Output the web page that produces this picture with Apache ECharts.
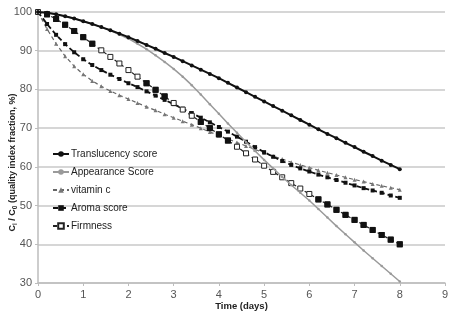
<!DOCTYPE html>
<html>
<head>
<meta charset="utf-8">
<script src="https://cdn.jsdelivr.net/npm/echarts@6/dist/echarts.min.js"></script>
<style>
html,body{margin:0;padding:0;background:#fff;}
#chart{width:460px;height:321px;}
</style>
</head>
<body>
<div id="chart"></div>
<script>
// ---- data ----
var days = [0,0.2,0.4,0.6,0.8,1,1.2,1.4,1.6,1.8,2,2.2,2.4,2.6,2.8,3,3.2,3.4,3.6,3.8,4,4.2,4.4,4.6,4.8,5,5.2,5.4,5.6,5.8,6,6.2,6.4,6.6,6.8,7,7.2,7.4,7.6,7.8,8];
var translucency = [100,99.8,99.4,98.9,98.3,97.6,96.9,96.1,95.3,94.4,93.5,92.5,91.5,90.5,89.4,88.4,87.3,86.2,85.1,84.0,82.9,81.7,80.5,79.3,78.1,76.9,75.7,74.5,73.3,72.1,70.9,69.7,68.5,67.4,66.2,65.1,63.9,62.8,61.6,60.5,59.4];
var appearance = [100,99.8,99.4,98.9,98.3,97.6,96.9,96.1,95.2,94.2,93.1,91.8,90.4,88.8,87.1,85.3,83.3,81.1,78.7,76.2,73.7,71.2,68.8,66.4,64.1,61.8,59.6,57.4,55.3,53.3,51.3,49.1,46.9,44.7,42.6,40.5,38.4,36.4,34.4,32.4,30.4];
var vitaminC = [100,95.6,91.8,88.6,86.0,83.9,82.2,80.8,79.6,78.5,77.5,76.5,75.5,74.6,73.6,72.7,71.8,70.9,70.0,69.0,68.1,67.2,66.3,65.4,64.5,63.6,62.8,62.0,61.2,60.5,59.8,59.1,58.5,57.9,57.3,56.7,56.2,55.6,55.1,54.6,54.1];
var aroma = [100,96.9,94.1,91.7,89.6,87.8,86.3,85.0,83.8,82.7,81.6,80.6,79.5,78.4,77.3,76.2,75.0,73.9,72.7,71.5,70.3,69.1,67.8,66.5,65.1,63.8,62.6,61.5,60.5,59.6,58.8,58.0,57.3,56.6,55.9,55.2,54.5,53.9,53.3,52.6,52.0];
var firmness = [100,99.4,98.2,96.7,95.1,93.5,91.8,90.1,88.4,86.7,85.0,83.3,81.6,79.9,78.2,76.5,74.8,73.2,71.6,70.0,68.4,66.8,65.2,63.5,61.9,60.3,58.7,57.3,55.8,54.4,53.0,51.6,50.3,48.9,47.6,46.3,45.0,43.7,42.4,41.2,40.0];
var seriesNames = ['Translucency score','Appearance Score','vitamin c','Aroma score','Firmness'];
var yTicks = [30,40,50,60,70,80,90,100];
var xTicks = [0,1,2,3,4,5,6,7,8,9];

// ---- build ----
function pairs(vals){ return days.map(function(d,i){ return [d, vals[i]]; }); }
// index ranges where firmness markers appear filled black in the reference
var filledRanges = [[1,6],[12,14],[18,21],[31,40]];
function filledOverlay(vals){
  return days.map(function(d,i){
    var on = filledRanges.some(function(r){ return i>=r[0] && i<=r[1]; });
    return on ? [d, vals[i]] : [d, null];
  });
}

var font = 'Liberation Sans, Arial, sans-serif';
var chart = echarts.init(document.getElementById('chart'), null, {renderer:'canvas'});
chart.setOption({
  animation:false,
  backgroundColor:'#fff',
  grid:{left:38, right:15, top:12, bottom:38, containLabel:false, outerBoundsMode:'none'},
  legend:{
    data:seriesNames,
    orient:'vertical',
    left:47, top:144,
    itemWidth:16, itemHeight:7, itemGap:8,
    textStyle:{fontFamily:font, fontSize:10, color:'#222', padding:[0,0,0,-3]},
    inactiveColor:'#ccc'
  },
  xAxis:{
    type:'value', min:xTicks[0], max:xTicks[xTicks.length-1], interval:1,
    name:'Time (days)', nameLocation:'middle', nameGap:18, nameMoveOverlap:false,
    nameTextStyle:{fontFamily:font, fontSize:9.5, fontWeight:'bold', color:'#222'},
    axisLine:{lineStyle:{color:'#bdbdbd', width:1.5}},
    axisTick:{show:true, length:3, lineStyle:{color:'#bdbdbd'}},
    axisLabel:{fontFamily:font, fontSize:11, color:'#555', margin:6},
    splitLine:{show:false}
  },
  yAxis:{
    type:'value', min:yTicks[0], max:yTicks[yTicks.length-1], interval:10,
    name:'{b|C}{s|i}{b| / C}{s|0}{b| (quality index fraction, %)}',
    nameLocation:'middle', nameGap:19, nameRotate:90, nameMoveOverlap:false,
    nameTextStyle:{
      padding:[0,30,0,0],
      rich:{
        b:{fontFamily:font, fontSize:9, fontWeight:'bold', color:'#222'},
        s:{fontFamily:font, fontSize:6.5, fontWeight:'bold', color:'#222', verticalAlign:'bottom', padding:[5,0,0,0]}
      }
    },
    axisLine:{show:true, lineStyle:{color:'#bdbdbd', width:1.5}},
    axisTick:{show:true, length:3, lineStyle:{color:'#bdbdbd'}},
    axisLabel:{fontFamily:font, fontSize:11, color:'#555', margin:6},
    splitLine:{lineStyle:{color:'#c8c8c8', width:1.5}}
  },
  series:[
    {name:seriesNames[0], type:'line', data:pairs(translucency),
     symbol:'circle', symbolSize:4, showSymbol:true,
     lineStyle:{color:'#111', width:2}, itemStyle:{color:'#111'}, z:5},
    {name:seriesNames[1], type:'line', data:pairs(appearance),
     symbol:'circle', symbolSize:2.5,
     lineStyle:{color:'#9a9a9a', width:1.5}, itemStyle:{color:'#9a9a9a'}, z:4},
    {name:seriesNames[2], type:'line', data:pairs(vitaminC),
     symbol:'triangle', symbolSize:4,
     lineStyle:{color:'#666', width:1.2, type:[4,3]}, itemStyle:{color:'#777'}, z:3},
    {name:seriesNames[3], type:'line', data:pairs(aroma),
     symbol:'rect', symbolSize:4,
     lineStyle:{color:'#111', width:1.8, type:[5,3]}, itemStyle:{color:'#111'}, z:3},
    {name:seriesNames[4], type:'line', data:pairs(firmness),
     symbol:'rect', symbolSize:5,
     lineStyle:{color:'#222', width:1.2, type:[4,3]},
     itemStyle:{color:'#fff', borderColor:'#222', borderWidth:1}, z:3},
    {name:'firmness-filled', type:'line', data:filledOverlay(firmness),
     symbol:'rect', symbolSize:6, connectNulls:false,
     lineStyle:{width:0, opacity:0}, itemStyle:{color:'#111'}, z:4, silent:true}
  ]
});
</script>
</body>
</html>
